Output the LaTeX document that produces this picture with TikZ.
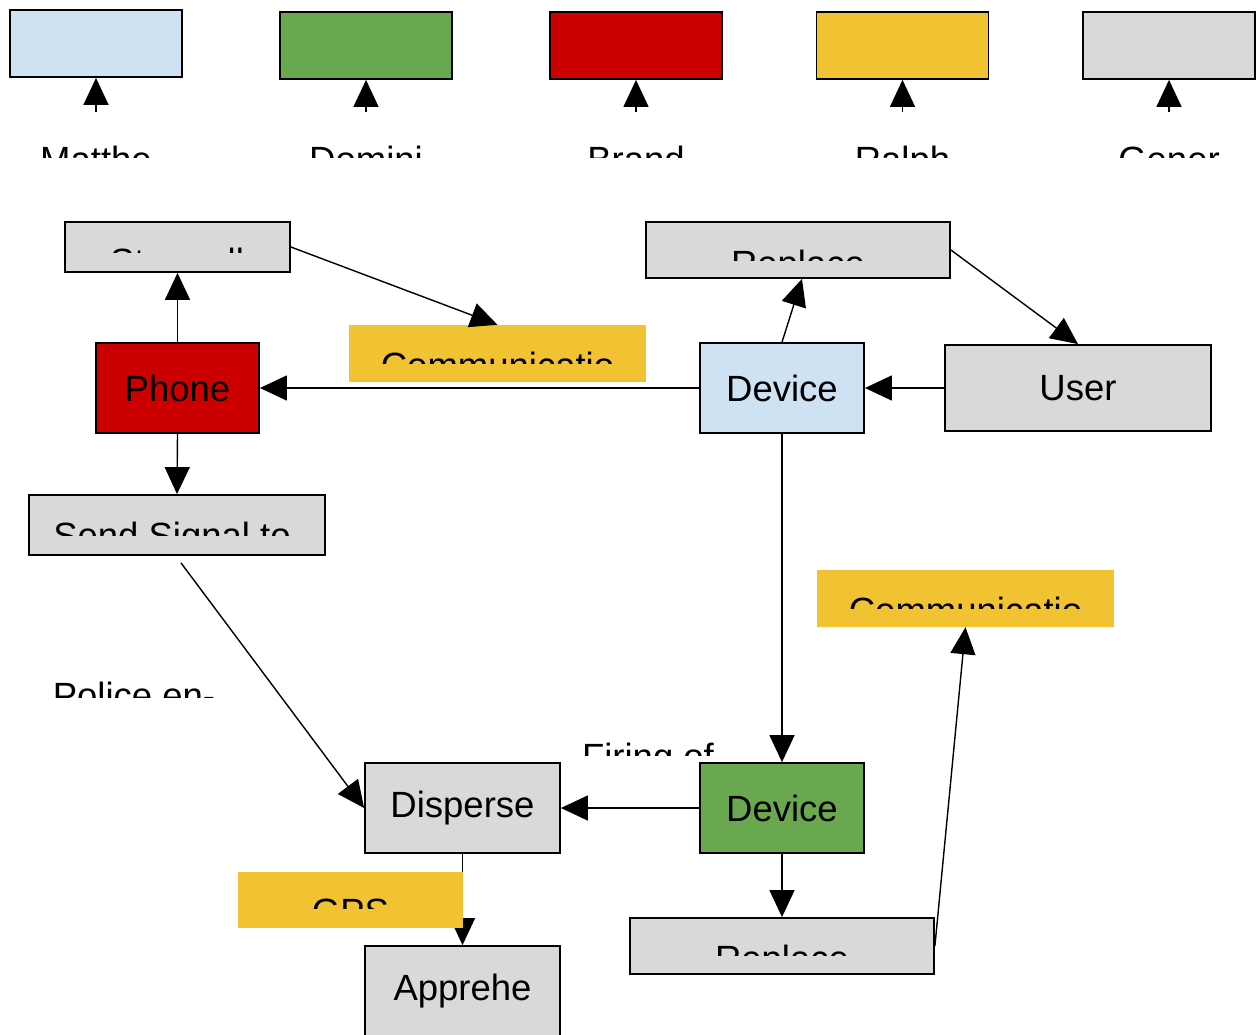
\documentclass[tikz,border=0pt]{standalone}
\usepackage{fontspec}
\setmainfont{Liberation Sans}
\usetikzlibrary{arrows.meta}
\definecolor{cblue}{HTML}{CFE2F3}
\definecolor{cgreen}{HTML}{6AA84F}
\definecolor{cred}{HTML}{CC0000}
\definecolor{cyellow}{HTML}{F1C232}
\definecolor{cgrey}{HTML}{D9D9D9}
% label whose lower part is cut away: name, centre x, cap top, cut line, text
\newcommand{\cutlabel}[5]{%
  \begin{scope}
    \clip (#2-230,#3-8) rectangle (#2+230,#4);
    \node[lbl] (#1) at (#2,#3+26.1) {#5};
  \end{scope}}
\begin{document}
\begin{tikzpicture}[x=1pt,y=-1pt,
  box/.style={draw=black, line width=1.8pt, inner sep=0pt,
    font=\fontsize{36.5}{40}\selectfont},
  note/.style={fill=cyellow, inner sep=0pt},
  flow/.style={line width=1.4pt, -{Triangle[width=25pt,length=27pt]}},
  lbl/.style={anchor=base, inner sep=0pt, font=\fontsize{36.5}{40}\selectfont}]
\clip (0,0) rectangle (1256,1034);

% legend
\node[box, fill=cblue,   minimum width=172, minimum height=67] (k1) at (96,43.5) {};
\node[box, fill=cgreen,  minimum width=172, minimum height=67] (k2) at (366,45.5) {};
\node[box, fill=cred,    minimum width=172, minimum height=67] (k3) at (636,45.5) {};
\node[box, fill=cyellow, minimum width=172, minimum height=67] (k4) at (902.5,45.5) {};
\node[box, fill=cgrey,   minimum width=172, minimum height=67] (k5) at (1169,45.5) {};
\coordinate (t1) at (96,112);
\coordinate (t2) at (366,112);
\coordinate (t3) at (636,112);
\coordinate (t4) at (902.5,112);
\coordinate (t5) at (1169,112);
\foreach \i in {1,...,5} \draw[flow] (t\i) -- (k\i.south);
\cutlabel{n1}{96}{146}{157}{Matthe}
\cutlabel{n2}{366}{146}{157}{Domini}
\cutlabel{n3}{636}{146}{157}{Brand}
\cutlabel{n4}{902.5}{146}{157}{Ralph}
\cutlabel{n5}{1169}{146}{157}{Gener}

% flow nodes
\node[box, fill=cgrey, minimum width=225, minimum height=50] (stand) at (177.5,247) {};
\node[box, fill=cgrey, minimum width=304, minimum height=56] (rtop) at (798,250) {};
\node[note, minimum width=297, minimum height=57] (comm1) at (497.5,353.5) {};
\node[box, fill=cred, minimum width=163, minimum height=90] (phone) at (177.5,388) {Phone};
\node[box, fill=cblue, minimum width=164, minimum height=90] (devb) at (782,388) {Device};
\node[box, fill=cgrey, minimum width=266, minimum height=86] (user) at (1078,388) {User};
\node[box, fill=cgrey, minimum width=296, minimum height=60] (send) at (177,525) {};
\node[note, minimum width=297, minimum height=57] (comm2) at (965.5,598.5) {};
\node[box, fill=cgrey, minimum width=195, minimum height=90] (disp) at (462.5,808) {Disperse};
\node[box, fill=cgreen, minimum width=164, minimum height=90] (devg) at (782,808) {Device};
\node[box, fill=cgrey, minimum width=304, minimum height=56] (rbot) at (782,946) {};
\node[box, fill=cgrey, minimum width=195, minimum height=90] (appr) at (462.5,991) {Apprehe};

% connectors
\draw[flow] (phone.north) -- (stand.south);
\draw[flow] (stand.east) -- (comm1.north);
\draw[flow] (devb.west) -- (phone.east);
\draw[flow] (user.west) -- (devb.east);
\draw[flow] (devb.north) -- ([xshift=4pt]rtop.south);
\draw[flow] (rtop.east) -- (user.north);
\draw[flow] (phone.south) -- (send.north);
\draw[flow] ([shift={(4,7)}]send.south) -- (disp.west);
\draw[flow] (devb.south) -- (devg.north);
\draw[flow] (devg.west) -- (disp.east);
\draw[flow] (devg.south) -- (rbot.north);
\draw[flow] (rbot.east) -- (comm2.south);
\draw[flow] (disp.south) -- (appr.north);

% GPS note lies over the Disperse -> Apprehend connector
\node[note, minimum width=225, minimum height=56] (gps) at (350.5,900) {};

% cut labels
\cutlabel{standtxt}{177}{248}{252}{Store all}
\cutlabel{rtoptxt}{798}{250}{260}{Replace}
\cutlabel{comm1txt}{497.5}{352}{363}{Communicatio}
\cutlabel{sendtxt}{172}{522}{535}{Send Signal to}
\cutlabel{comm2txt}{965.5}{597}{608}{Communicatio}
\cutlabel{police}{134}{682}{697}{Police en-}
\cutlabel{firing}{648}{743}{755}{Firing of}
\cutlabel{gpstxt}{350.5}{898}{908}{GPS}
\cutlabel{rbottxt}{782}{945}{955}{Replace}
\end{tikzpicture}
\end{document}
